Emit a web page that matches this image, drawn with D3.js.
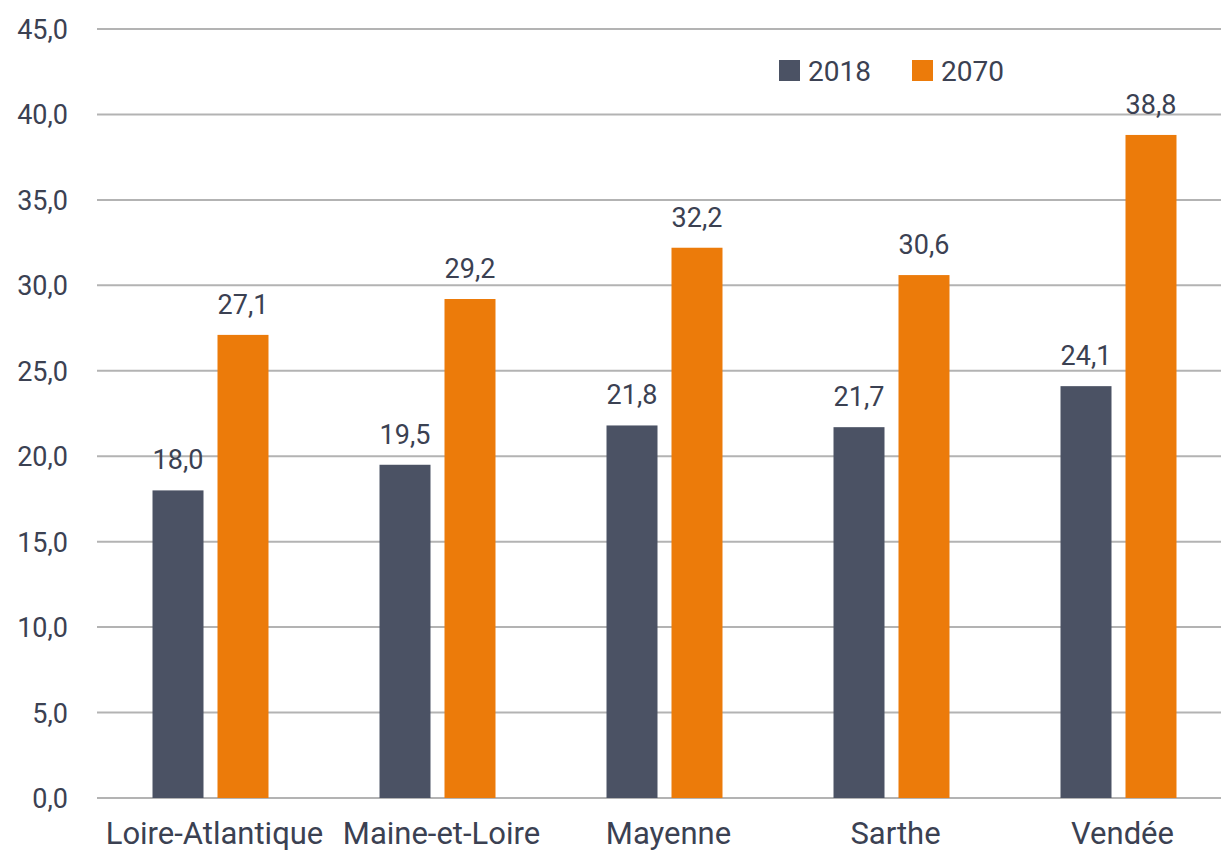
<!DOCTYPE html>
<html>
<meta charset="utf-8"/>
<head>
  <title>2018 / 2070</title>
  <script src="https://d3js.org/d3.v7.min.js"></script>
  <style>
    body { margin: 0; background: #fff; }
    text { font-family: Roboto, "DejaVu Sans Condensed", sans-serif; fill: #3b4152; }
  </style>
</head>
<body>
<script>
  // data
  var departements = ['Loire-Atlantique', 'Maine-et-Loire', 'Mayenne', 'Sarthe', 'Vendée'];
  var series = ['2018', '2070'];
  var values2018 = [18.0, 19.5, 21.8, 21.7, 24.1];
  var values2070 = [27.1, 29.2, 32.2, 30.6, 38.8];
  var yTicks = [0, 5, 10, 15, 20, 25, 30, 35, 40, 45];
  var colors = ['#4b5264', '#ec7b0a'];

  var W = 1221, H = 852;
  var plotLeft = 97, plotRight = 1232, plotTop = 29, plotBottom = 798;

  var fmt = function(v){ return v.toFixed(1).replace('.', ','); };

  var svg = d3.select('body').append('svg')
      .attr('width', W)
      .attr('height', H);

  var x0 = d3.scaleBand().domain(departements).range([plotLeft, plotRight]);
  // bar 51px, gap 14px
  var x1 = d3.scaleBand().domain(series).range([0, x0.bandwidth()])
      .paddingInner(14/65).paddingOuter(0.854);
  var y = d3.scaleLinear().domain([0, 45]).range([plotBottom, plotTop]);

  // grid
  svg.append('g').selectAll('line')
    .data(yTicks).enter().append('line')
    .attr('x1', plotLeft).attr('x2', W)
    .attr('y1', function(d){ return y(d); })
    .attr('y2', function(d){ return y(d); })
    .style('stroke', '#b3b3b3')
    .style('stroke-width', 2);

  // y labels
  svg.append('g').selectAll('text')
    .data(yTicks).enter().append('text')
    .attr('x', 68)
    .attr('y', function(d){ return y(d) + 10; })
    .attr('text-anchor', 'end')
    .style('font-size', '27px')
    .text(function(d){ return fmt(d); });

  var rows = departements.map(function(d, i){
    return {dep: d, vals: [values2018[i], values2070[i]]};
  });

  var groups = svg.append('g').selectAll('g')
    .data(rows).enter().append('g')
    .attr('transform', function(d){ return 'translate(' + x0(d.dep) + ',0)'; });

  groups.selectAll('rect')
    .data(function(d){ return d.vals.map(function(v, k){ return {s: series[k], v: v, k: k}; }); })
    .enter().append('rect')
    .attr('x', function(d){ return x1(d.s); })
    .attr('width', x1.bandwidth())
    .attr('y', function(d){ return y(d.v); })
    .attr('height', function(d){ return y(0) - y(d.v); })
    .style('fill', function(d){ return colors[d.k]; });

  groups.selectAll('text.val')
    .data(function(d){ return d.vals.map(function(v, k){ return {s: series[k], v: v}; }); })
    .enter().append('text')
    .attr('class', 'val')
    .attr('x', function(d){ return x1(d.s) + x1.bandwidth()/2; })
    .attr('y', function(d){ return y(d.v) - 21; })
    .attr('text-anchor', 'middle')
    .style('font-size', '27px')
    .text(function(d){ return fmt(d.v); });

  // category labels
  svg.append('g').selectAll('text')
    .data(departements).enter().append('text')
    .attr('x', function(d){ return x0(d) + x0.bandwidth()/2 + 4; })
    .attr('y', 844)
    .attr('text-anchor', 'middle')
    .style('font-size', '31px')
    .text(function(d){ return d; });

  // legend
  var legX = [779, 912];
  var leg = svg.append('g').selectAll('g')
    .data(series).enter().append('g')
    .attr('transform', function(d, i){ return 'translate(' + legX[i] + ',60)'; });
  leg.append('rect')
    .attr('width', 21).attr('height', 21)
    .style('fill', function(d, i){ return colors[i]; });
  leg.append('text')
    .attr('x', 29).attr('y', 21)
    .style('font-size', '28px')
    .text(function(d){ return d; });
</script>
</body>
</html>
